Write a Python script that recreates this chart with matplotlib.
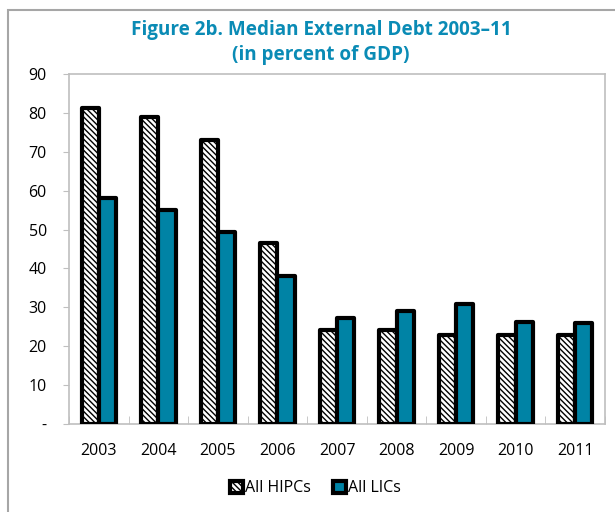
import numpy as np
import matplotlib
matplotlib.use("Agg")
import matplotlib.pyplot as plt
from matplotlib.patches import Rectangle

plt.rcParams["font.family"] = ["Open Sans", "DejaVu Sans"]
plt.rcParams["hatch.linewidth"] = 1.0

# ── Data ─────────────────────────────────────────────────────────────────────
years = ["2003", "2004", "2005", "2006", "2007", "2008", "2009", "2010", "2011"]
hipc = [81.2, 78.9, 73.0, 46.5, 24.3, 24.3, 23.0, 23.0, 23.0]
lics = [58.2, 55.0, 49.5, 38.0, 27.3, 29.0, 30.8, 26.3, 26.0]
yticks = [0, 10, 20, 30, 40, 50, 60, 70, 80, 90]
ytick_labels = ["-"] + [str(v) for v in yticks[1:]]

TEAL = "#0083A5"
TITLE_C = "#0A8BB5"
GRID_C = "#BFBFBF"

fig = plt.figure(figsize=(6.15, 5.12), dpi=100)
ax = fig.add_axes([69 / 615, 1 - 424 / 512, (605 - 69) / 615, (424 - 74) / 512])

x = np.arange(len(years))
w = 0.29
ax.bar(x - w / 2, hipc, w, color="white", edgecolor="black", hatch="\\" * 6,
       linewidth=3.0, joinstyle="round", label="All HIPCs", zorder=3)
ax.bar(x + w / 2, lics, w, color=TEAL, edgecolor="black",
       linewidth=3.0, joinstyle="round", label="All LICs", zorder=3)

ax.set_xlim(-0.5, len(years) - 0.5)
ax.set_ylim(0, 90)
ax.set_yticks(yticks)
ax.set_yticklabels(ytick_labels, fontsize=11.5)
ax.set_xticks(x)
ax.set_xticklabels(years, fontsize=11.5)
ax.tick_params(axis="x", length=0, pad=14)
ax.tick_params(axis="y", length=4, color=GRID_C, pad=12)
ax.set_xticks(np.arange(-0.5, len(years)), minor=True)
ax.tick_params(axis="x", which="minor", direction="in", length=6, color=GRID_C)
for s in ax.spines.values():
    s.set_color(GRID_C)
    s.set_linewidth(1.2)

ax.legend(loc="upper center", bbox_to_anchor=(0.46, -0.12), ncol=2, frameon=False,
          fontsize=11.5, handlelength=0.8, handleheight=0.8, handletextpad=0.15,
          columnspacing=1.4)

fig.text(0.522, 1 - 30 / 512, "Figure 2b. Median External Debt 2003\u201311",
         ha="center", va="center", fontsize=13.6, fontweight="bold", color=TITLE_C)
fig.text(0.522, 1 - 55 / 512, "(in percent of GDP)",
         ha="center", va="center", fontsize=13.6, fontweight="bold", color=TITLE_C)

# outer chart frame
fig.patches.append(Rectangle((8 / 615, -0.1), 1.2, 1 - 10 / 512 + 0.1,
                             transform=fig.transFigure, fill=False,
                             edgecolor="#A6A6A6", linewidth=1.5))

fig.savefig("out.png", dpi=100)
